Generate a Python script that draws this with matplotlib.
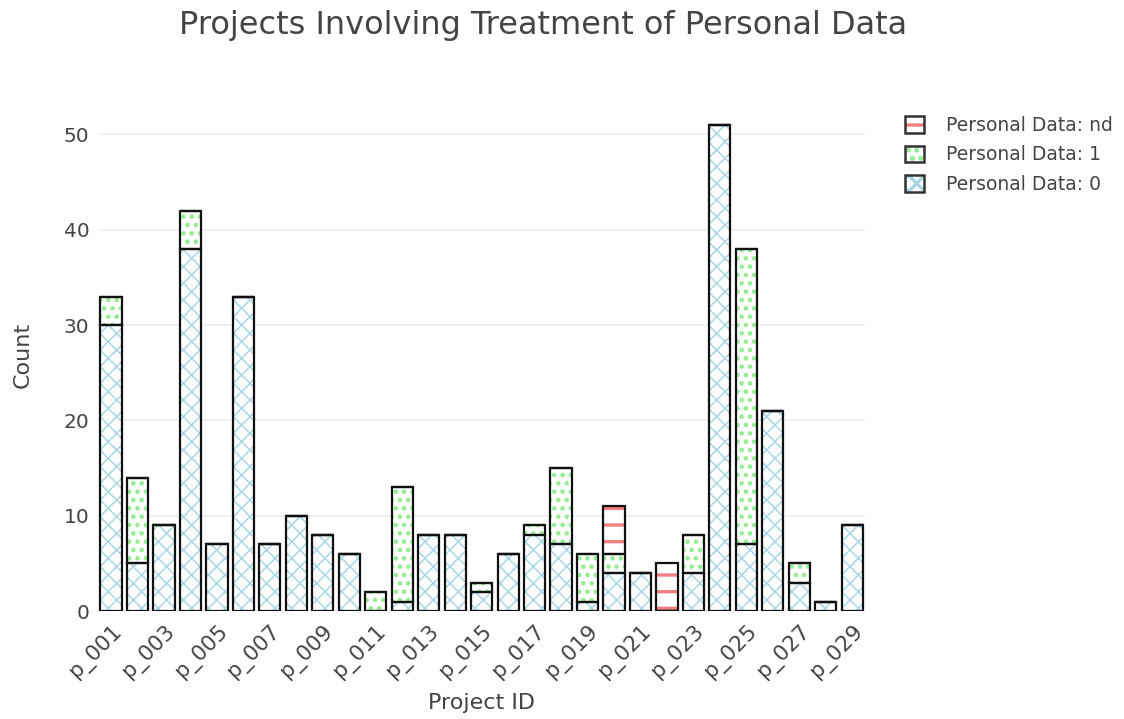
import matplotlib
import matplotlib.pyplot as plt
import numpy as np
from matplotlib.legend_handler import HandlerTuple
from matplotlib.patches import Patch

matplotlib.use("Agg")

projects = [
    "p_001", "p_002", "p_003", "p_004", "p_005", "p_006", "p_007", "p_008",
    "p_009", "p_010", "p_011", "p_012", "p_013", "p_014", "p_015", "p_016",
    "p_017", "p_018", "p_019", "p_020", "p_021", "p_022", "p_023", "p_024",
    "p_025", "p_026", "p_027", "p_028", "p_029",
]
pd_0 = [30, 5, 9, 38, 7, 33, 7, 10, 8, 6, 0, 1, 8, 8, 2, 6, 8, 7, 1, 4, 4, 0, 4, 51, 7, 21, 3, 1, 9]
pd_1 = [3, 9, 0, 4, 0, 0, 0, 0, 0, 0, 2, 12, 0, 0, 1, 0, 1, 8, 5, 2, 0, 0, 4, 0, 31, 0, 2, 0, 0]
pd_nd = [0, 0, 0, 0, 0, 0, 0, 0, 0, 0, 0, 0, 0, 0, 0, 0, 0, 0, 0, 5, 0, 5, 0, 0, 0, 0, 0, 0, 0]

# label, values, hatch colour, hatch pattern, hatch line width
series = [
    ("Personal Data: 0", pd_0, "#a8d8e6", "xx", 1.1),
    ("Personal Data: 1", pd_1, "#90ee90", "..", 2.0),
    ("Personal Data: nd", pd_nd, "#f08080", "-", 2.4),
]

plt.rcParams["font.family"] = ["DejaVu Sans"]
text_color = "#444444"

fig = plt.figure(figsize=(11.24, 7.19), dpi=100, facecolor="white")
ax = fig.add_axes([0.087, 0.150, 0.683, 0.712])

x = np.arange(len(projects))
bottom = np.zeros(len(projects))
handles = []
for label, vals, color, hatch, hlw in series:
    plt.rcParams["hatch.linewidth"] = hlw
    vals = np.array(vals, dtype=float)
    ax.bar(x, vals, 0.8, bottom=bottom, facecolor="white", edgecolor=color,
           hatch=hatch, linewidth=0, zorder=2)
    ax.bar(x, vals, 0.8, bottom=bottom, fill=False, edgecolor="#111111",
           linewidth=1.6, zorder=3)
    bottom += vals
    h1 = Patch(facecolor="white", edgecolor=color, hatch=hatch, linewidth=0)
    h2 = Patch(fill=False, edgecolor="#333333", linewidth=1.8)
    handles.append(((h1, h2), label))

ax.set_xlim(-0.5, len(projects) - 0.5)
ax.set_ylim(0, 53.7)
ax.set_yticks([0, 10, 20, 30, 40, 50])
ax.yaxis.grid(True, color="#eeeeee", linewidth=1.2, zorder=0)
ax.set_axisbelow(True)
for s in ax.spines.values():
    s.set_visible(False)
ax.tick_params(axis="both", length=0, colors=text_color, labelsize=14.5)
ax.tick_params(axis="y", pad=6)

ax.set_xticks(x[::2])
ax.set_xticklabels(projects[::2], rotation=45, ha="right", va="top",
                   rotation_mode="anchor")
ax.tick_params(axis="x", pad=7, labelsize=15.5)

ax.set_xlabel("Project ID", fontsize=16, color=text_color, labelpad=8)
ax.set_ylabel("Count", fontsize=16, color=text_color, labelpad=22)

fig.text(0.483, 0.965, "Projects Involving Treatment of Personal Data",
         ha="center", va="center", fontsize=23, color=text_color)

handles = handles[::-1]
leg = fig.legend([h for h, _ in handles], [l for _, l in handles],
                 handler_map={tuple: HandlerTuple(ndivide=1, pad=0)},
                 loc="upper left", bbox_to_anchor=(0.79, 0.862), frameon=False,
                 fontsize=13.5, handlelength=1.0, handleheight=1.0,
                 handletextpad=1.2, labelspacing=0.55)
for t in leg.get_texts():
    t.set_color(text_color)

plt.savefig("out.png", dpi=100, facecolor="white")
plt.close()
